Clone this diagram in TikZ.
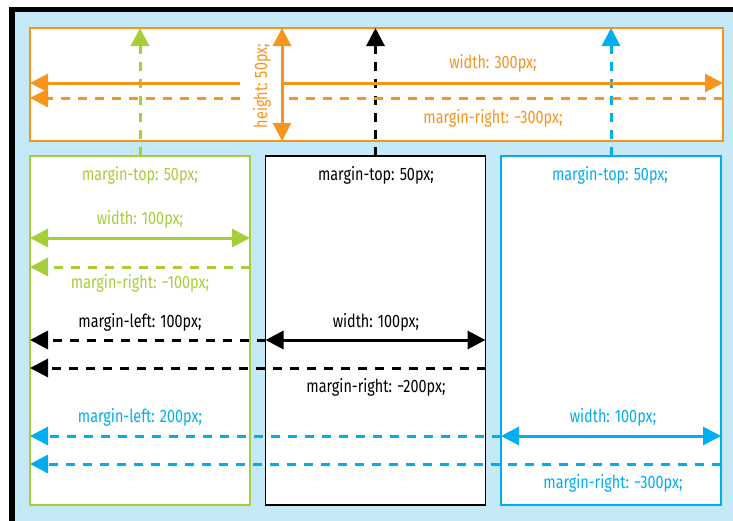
\documentclass[tikz,border=0pt]{standalone}
\usepackage{fontspec}
\setmainfont{Fira Sans}[FakeStretch=0.8]
\usetikzlibrary{arrows.meta}
\definecolor{orng}{HTML}{F7941E}
\definecolor{grn}{HTML}{A6CE39}
\definecolor{blu}{HTML}{00AEEF}
\definecolor{bgblu}{HTML}{C6E9F8}

\begin{document}
\begin{tikzpicture}[x=1pt,y=-1pt,>={Triangle[length=18pt,width=18pt]},
  box/.style={draw=#1,fill=white,line width=1.5pt,inner sep=0pt,outer sep=0pt,minimum width=220pt,minimum height=349pt},
  lbl/.style={text=#1,font=\fontsize{18}{20}\selectfont,inner sep=0pt},
  dim/.style={#1,line width=3pt,<->},
  dsh/.style={#1,line width=3pt,dash pattern=on 9pt off 8pt},
  mrg/.style={dsh=#1,->}]
\path[use as bounding box,clip] (0,0) rectangle (733,520);
\draw[line width=5.5pt,fill=bgblu] (12,9.5) rectangle (760,560);

\node[box=orng,minimum width=693pt,minimum height=113pt] (wide) at (376.5,84.5) {};
\node[box=grn] (lft) at (140,330.5) {};
\node[box=black] (mid) at (375.5,330.5) {};
\node[box=blu] (rgt) at (611,330.5) {};

\foreach \b/\c in {lft/grn,mid/black,rgt/blu} {
   \draw[mrg=\c] (\b.north) -- (\b.north |- wide.north);
}

\coordinate (gapl) at (240,83);
\coordinate (gapr) at (282,83);
\coordinate (dgapl) at (240,98);
\coordinate (dgapr) at (282,98);
\draw[orng,line width=3pt,<-] (wide.west |- gapl) -- (gapl);
\draw[orng,line width=3pt,->] (gapr) -- (wide.east |- gapr);
\draw[mrg=orng] (dgapl) -- (wide.west |- dgapl);
\draw[dsh=orng] (wide.east |- dgapr) -- (dgapr);
\draw[dim=orng] (gapr |- wide.north) -- (gapr |- wide.south);
\node[lbl=orng,rotate=90] (hgt) at (262,86) {height: 50px;};
\node[lbl=orng] (wtxt) at (493,63) {width: 300px;};
\node[lbl=orng] (mtxt) at (493,118) {margin-right: −300px;};

\node[lbl=grn] (lfttop) at (140,175) {margin-top: 50px;};
\node[lbl=grn] (lftw) at (140,219) {width: 100px;};
\node[lbl=grn] (lftmr) at (140,283) {margin-right: −100px;};
\draw[dim=grn] ([yshift=-82pt]lft.north west) -- ([yshift=-82pt]lft.north east);
\draw[mrg=grn] ([yshift=-111pt]lft.north east) -- ([yshift=-111pt]lft.north west);

\node[lbl=black] (midtop) at (376,175) {margin-top: 50px;};
\node[lbl=black] (midml) at (140,322) {margin-left: 100px;};
\node[lbl=black] (midw) at (376,322) {width: 100px;};
\node[lbl=black] (midmr) at (376,387) {margin-right: −200px;};
\draw[mrg=black] ([yshift=-184pt]mid.north west) -- ([yshift=-184pt]lft.north west);
\draw[dim=black] ([yshift=-184pt]mid.north west) -- ([yshift=-184pt]mid.north east);
\draw[mrg=black] ([yshift=-212pt]mid.north east) -- ([yshift=-212pt]lft.north west);

\node[lbl=blu] (rgttop) at (610,175) {margin-top: 50px;};
\node[lbl=blu] (rgtml) at (140,417) {margin-left: 200px;};
\node[lbl=blu] (rgtw) at (613,417) {width: 100px;};
\node[lbl=blu] (rgtmr) at (613,483) {margin-right: −300px;};
\draw[mrg=blu] ([yshift=-280pt]rgt.north west) -- ([yshift=-280pt]lft.north west);
\draw[dim=blu] ([yshift=-280pt]rgt.north west) -- ([yshift=-280pt]rgt.north east);
\draw[mrg=blu] ([yshift=-308pt]rgt.north east) -- ([yshift=-308pt]lft.north west);
\end{tikzpicture}
\end{document}
